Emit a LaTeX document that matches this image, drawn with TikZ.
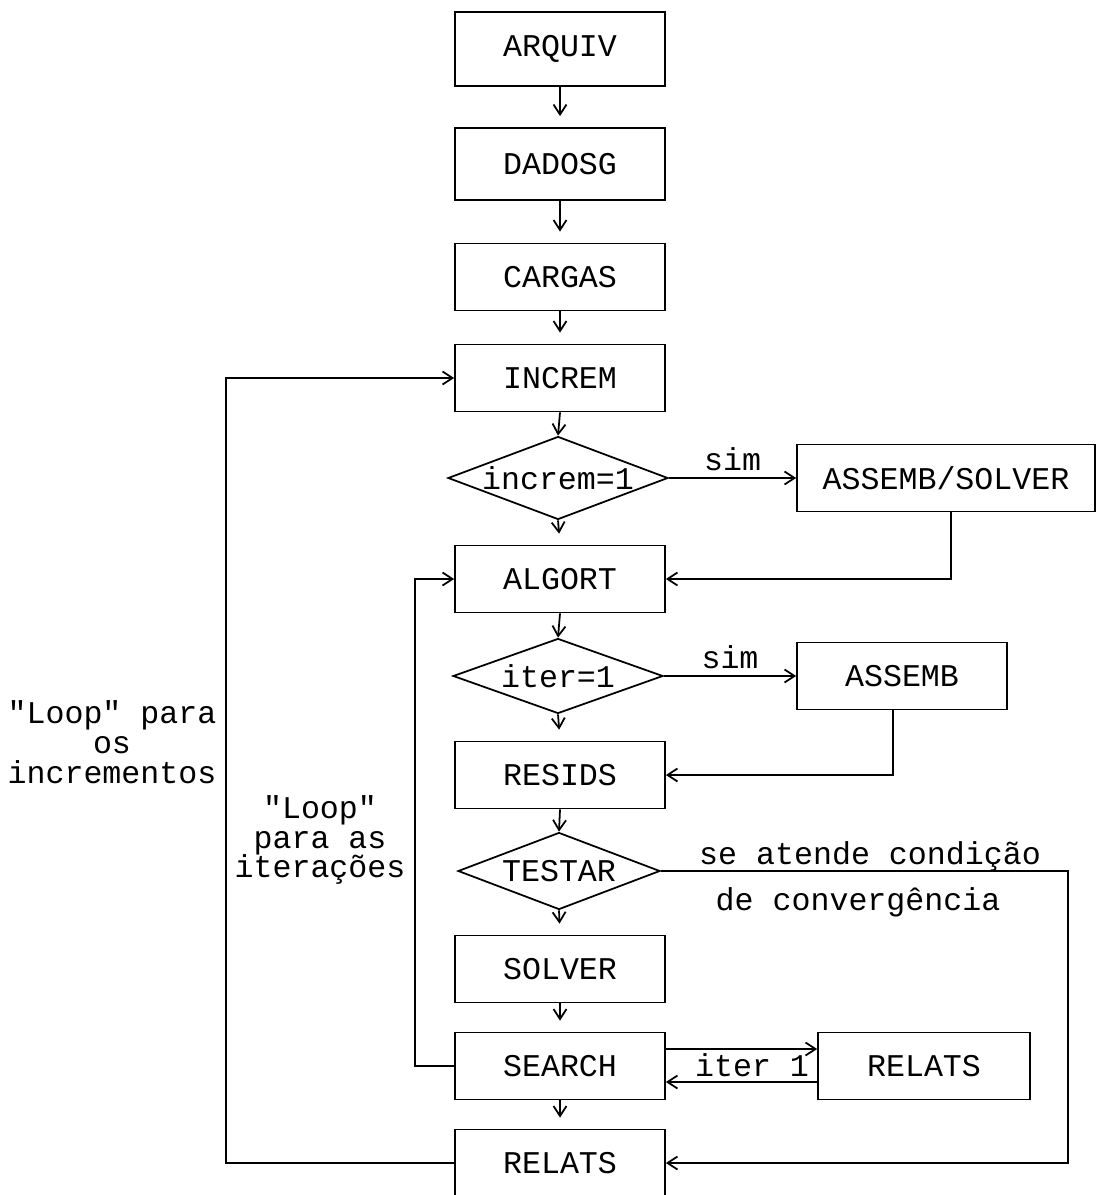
\documentclass[tikz,border=0pt]{standalone}
\usepackage{fontspec}
\newfontfamily\mono{Liberation Mono}
\usetikzlibrary{shapes.geometric, arrows.meta}

\begin{document}
\begin{tikzpicture}[x=0.02cm, y=-0.02cm,
    every node/.style={font=\mono\fontsize{18}{17}\selectfont},
    bloco/.style={draw, line width=1pt, minimum width=4.2cm, minimum height=1.34cm, inner sep=0pt},
    teste/.style={draw, diamond, line width=1pt, inner sep=-6pt, aspect=2.7},
    seta/.style={line width=1pt, -{Straight Barb[length=0.2cm, width=0.26cm]}}]
    \useasboundingbox (0,0) rectangle (1098,1195);

    % Coluna principal
        \node[bloco, minimum height=1.48cm] (arquiv) at (560,49) {ARQUIV};
        \node[bloco, minimum height=1.44cm] (dadosg) at (560,164) {DADOSG};
        \node[bloco] (cargas) at (560,277) {CARGAS};
        \node[bloco] (increm) at (560,378) {INCREM};
        \node[teste, minimum width=4.4cm, minimum height=1.66cm] (dincrem) at (558,478) {increm=1};
        \node[bloco] (algort) at (560,579) {ALGORT};
        \node[teste, minimum width=4.2cm, minimum height=1.5cm] (diter) at (558,676) {iter=1};
        \node[bloco] (resids) at (560,775) {RESIDS};
        \node[teste, minimum width=4.04cm, minimum height=1.54cm] (testar) at (559,871) {TESTAR};
        \node[bloco] (solver) at (560,969) {SOLVER};
        \node[bloco] (search) at (560,1066) {SEARCH};
        \node[bloco] (relats) at (560,1163) {RELATS};

    % Ramos a direita
        \node[bloco, minimum width=5.96cm] (assol) at (946,478) {ASSEMB/SOLVER};
        \node[bloco] (assemb) at (902,676) {ASSEMB};
        \node[bloco, minimum width=4.24cm] (relatsb) at (924,1066) {RELATS};

    % Setas verticais
        \foreach \a/\b in {arquiv/dadosg, dadosg/cargas, cargas/increm, dincrem/algort, diter/resids, testar/solver, solver/search, search/relats}
            \draw[seta, shorten >=0.22cm] (\a.south) -- (\b.north);
        \foreach \a/\b in {increm/dincrem, algort/diter, resids/testar}
            \draw[seta] (\a.south) -- (\b.north);

    % Desvios "sim"
        \draw[seta] (dincrem.east) -- (assol.west) node[midway, above] (sima) {sim};
        \draw[seta] (diter.east) -- (assemb.west) node[midway, above] (simb) {sim};
        \draw[seta] ([xshift=0.1cm]assol.south) |- (algort.east);
        \draw[seta] ([xshift=-0.18cm]assemb.south) |- (resids.east);

    % Convergencia
        \coordinate (conv) at (1068,871);
        \draw[seta] (testar.east) -- (conv) |- (relats.east);
        \node (condicao) at (870,856) {se atende condição};
        \node (converg) at (858,902) {de convergência};

    % SEARCH e RELATS
        \draw[seta] ([yshift=0.34cm]search.east) -- ([yshift=0.34cm]relatsb.west);
        \draw[seta] ([yshift=-0.32cm]relatsb.west) -- ([yshift=-0.32cm]search.east);
        \node (iterum) at (752,1065) {iter 1};

    % Loops
        \coordinate (loopit) at (415,1066);
        \draw[seta] (search.west) -- (loopit) |- (algort.west);
        \coordinate (loopinc) at (226,1163);
        \draw[seta] (relats.west) -- (loopinc) |- (increm.west);
        \node[align=center] (lpinc) at (112,742) {"Loop" para\\os\\incrementos};
        \node[align=center] (lpit) at (320,840) {"Loop"\\para as\\iterações};
\end{tikzpicture}
\end{document}
